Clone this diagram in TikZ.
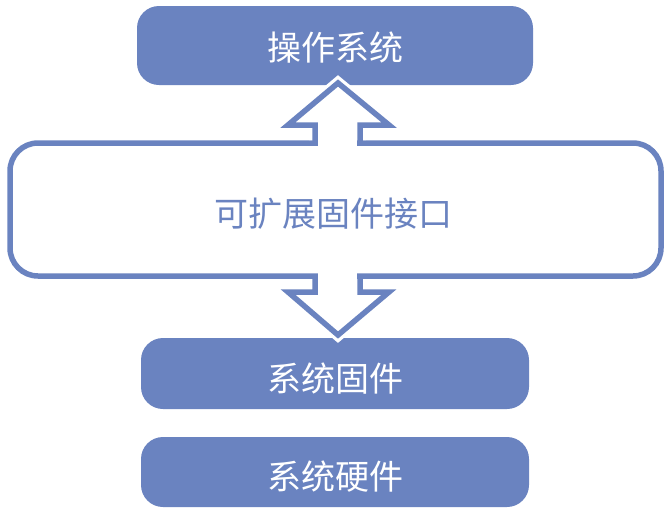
\documentclass[tikz,border=0pt]{standalone}
\usepackage{fontspec}
\newfontfamily\cjk{Noto Sans CJK SC}
\definecolor{boxblue}{RGB}{106,131,192}
\tikzset{
  bluebox/.style={fill=boxblue, draw=none, rounded corners=22pt, inner sep=0pt},
  whitetxt/.style={text=white, font=\cjk\fontsize{34}{40}\selectfont, inner sep=0pt},
  bluetxt/.style={text=boxblue, font=\cjk\fontsize{34}{40}\selectfont, inner sep=0pt},
  framebox/.style={draw=boxblue, line width=5.5pt, fill=white, rounded corners=28pt, inner sep=0pt},
  halo/.style={draw=white, line width=12pt, line join=miter},
  arrowline/.style={draw=boxblue, line width=5.5pt, line join=miter}
}
\begin{document}
\begin{tikzpicture}[x=1pt,y=-1pt]
\useasboundingbox (0,0) rectangle (671,512);
% boxes
\node[bluebox, minimum width=396pt, minimum height=79pt] (os) at (335,45.5) {};
\node[bluebox, minimum width=388pt, minimum height=71pt] (fw) at (335,373.5) {};
\node[bluebox, minimum width=388pt, minimum height=70pt] (hw) at (335,472) {};
\node[framebox, minimum width=651pt, minimum height=133pt] (iface) at (335.5,209.5) {};
% up arrow
\coordinate (ul) at (315,143);
\coordinate (ur) at (360,143);
\fill[white] (318,137) rectangle (357,149);
\draw[halo] (315,140) -- (315,125) -- (288,125) -- (338,83) -- (389,125) -- (360,125) -- (360,140);
\draw[arrowline] (ul) -- (315,125) -- (288,125) -- (338,83) -- (389,125) -- (360,125) -- (ur);
% down arrow
\coordinate (dl) at (315,276);
\coordinate (dr) at (360,276);
\fill[white] (318,270) rectangle (357,282);
\draw[halo] (315,279) -- (315,292) -- (288,292) -- (338,335) -- (389,292) -- (360,292) -- (360,279);
\draw[arrowline] (dl) -- (315,292) -- (288,292) -- (338,335) -- (389,292) -- (360,292) -- (dr);
% texts
\node[whitetxt] (t1) at (335,47.5) {操作系统};
\node[bluetxt] (t2) at (333,213.5) {可扩展固件接口};
\node[whitetxt] (t3) at (335,379) {系统固件};
\node[whitetxt] (t4) at (335,477) {系统硬件};
\end{tikzpicture}
\end{document}
